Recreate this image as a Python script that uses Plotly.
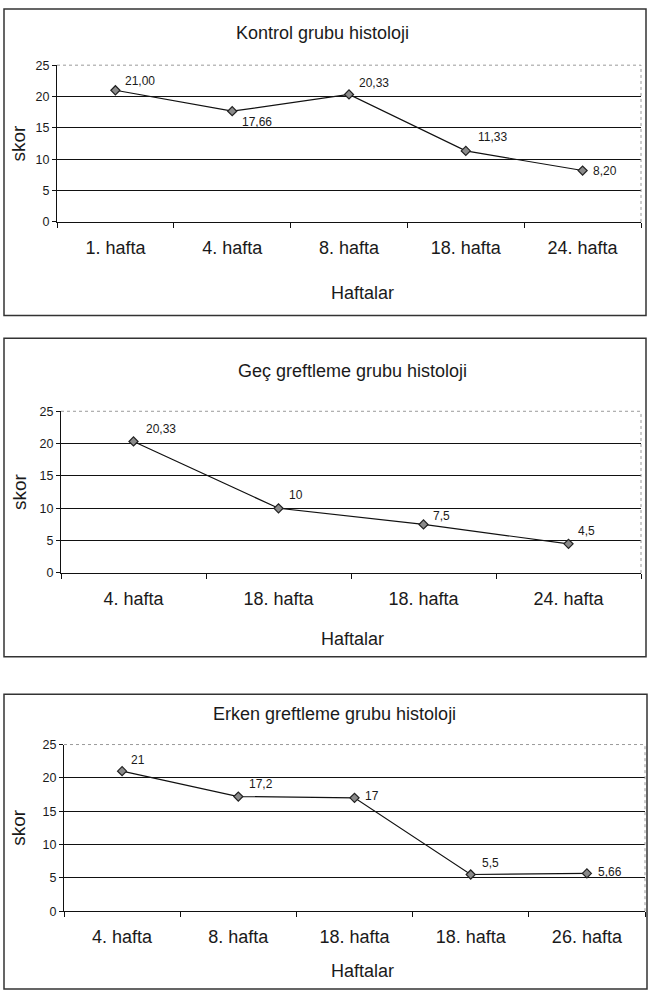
import plotly.graph_objects as go

W, H = 648, 1001

# ---- data ----
kontrol_weeks = ["1. hafta", "4. hafta", "8. hafta", "18. hafta", "24. hafta"]
kontrol_scores = [21.00, 17.66, 20.33, 11.33, 8.20]
kontrol_labels = ["21,00", "17,66", "20,33", "11,33", "8,20"]

gec_weeks = ["4. hafta", "18. hafta", "18. hafta", "24. hafta"]
gec_scores = [20.33, 10, 7.5, 4.5]
gec_labels = ["20,33", "10", "7,5", "4,5"]

erken_weeks = ["4. hafta", "8. hafta", "18. hafta", "18. hafta", "26. hafta"]
erken_scores = [21, 17.2, 17, 5.5, 5.66]
erken_labels = ["21", "17,2", "17", "5,5", "5,66"]

titles = ["Kontrol grubu histoloji", "Geç greftleme grubu histoloji", "Erken greftleme grubu histoloji"]
y_ticks = [0, 5, 10, 15, 20, 25]
x_title = "Haftalar"
y_title = "skor"

# ---- layout geometry (pixels) ----
panels = [
    dict(weeks=kontrol_weeks, scores=kontrol_scores, labels=kontrol_labels,
         box=(4, 2, 646, 313), plot=(57, 59, 641, 218), title_xy=(322, 26), xt_xy=(362, 290), yt_x=19,
         offs=[(8, -9), (8, 11), (8, -11), (10, -14), (8, 0)]),
    dict(weeks=gec_weeks, scores=gec_scores, labels=gec_labels,
         box=(4, 336, 646, 659), plot=(61, 410, 641, 574), title_xy=(352, 369), xt_xy=(352, 641), yt_x=19,
         offs=[(10, -12), (8, -13), (7, -8), (7, -13)]),
    dict(weeks=erken_weeks, scores=erken_scores, labels=erken_labels,
         box=(4, 697, 647, 996), plot=(64, 748, 645, 917), title_xy=(334, 717), xt_xy=(362, 978), yt_x=19,
         offs=[(7, -11), (9, -13), (8, -2), (9, -12), (9, -1)]),
]

def px(x):
    return x / W

def py(y):
    return 1 - y / H

fig = go.Figure()
font_family = "Liberation Sans, Arial, sans-serif"
txt_color = "#1a1a1a"

shapes = []
annotations = []

for i, p in enumerate(panels, start=1):
    n = len(p["weeks"])
    xs = list(range(n))
    xa = "x" if i == 1 else f"x{i}"
    ya = "y" if i == 1 else f"y{i}"
    fig.add_trace(go.Scatter(
        x=xs, y=p["scores"], mode="lines+markers",
        line=dict(color="#111111", width=1.2),
        marker=dict(symbol="diamond", size=7, color="#8a8a8a",
                    line=dict(color="#222222", width=1.2)),
        xaxis=xa, yaxis=ya, showlegend=False, hoverinfo="skip",
    ))
    x0, y0, x1, y1 = p["plot"]
    xkey = "xaxis" if i == 1 else f"xaxis{i}"
    ykey = "yaxis" if i == 1 else f"yaxis{i}"
    fig.update_layout(**{
        xkey: dict(
            domain=[px(x0), px(x1)], anchor=ya, range=[-0.5, n - 0.5],
            tickmode="array", tickvals=xs, ticktext=p["weeks"], ticks="",
            ticklabelstandoff=9,
            showgrid=False, zeroline=False, showline=True, linecolor="#111111", linewidth=1.2,
            tickfont=dict(size=18, color=txt_color, family=font_family),
            minor=dict(tickmode="array", tickvals=[k - 0.5 for k in range(n + 1)],
                       ticks="outside", ticklen=5, tickcolor="#111111", tickwidth=1.2, showgrid=False),
            fixedrange=True,
        ),
        ykey: dict(
            domain=[py(y1), py(y0)], anchor=xa, range=[0, 25],
            tickmode="array", tickvals=y_ticks, ticks="outside", ticklen=4,
            tickcolor="#111111", tickwidth=1.2,
            showgrid=False, zeroline=False, showline=True, linecolor="#111111", linewidth=1.2,
            tickfont=dict(size=12.5, color=txt_color, family=font_family),
            minor=dict(tickmode="array", tickvals=y_ticks[1:-1], ticks="",
                       showgrid=True, gridcolor="#111111", gridwidth=1.2),
            fixedrange=True,
        ),
    })
    # dotted plot-area border (top and right)
    shapes.append(dict(type="line", xref=f"{xa} domain", yref=f"{ya} domain",
                       x0=0, x1=1, y0=1, y1=1, line=dict(color="#9a9a9a", width=1, dash="dot")))
    shapes.append(dict(type="line", xref=f"{xa} domain", yref=f"{ya} domain",
                       x0=1, x1=1, y0=0, y1=1, line=dict(color="#9a9a9a", width=1, dash="dot")))
    # panel frame
    bx0, by0, bx1, by1 = p["box"]
    shapes.append(dict(type="rect", xref="paper", yref="paper",
                       x0=px(bx0), x1=px(bx1), y0=py(by1), y1=py(by0),
                       line=dict(color="#333333", width=1.5), fillcolor="rgba(0,0,0,0)"))
    # panel title
    tx, ty = p["title_xy"]
    annotations.append(dict(text=titles[i - 1], xref="paper", yref="paper",
                            x=px(tx), y=py(ty), showarrow=False,
                            xanchor="center", yanchor="middle",
                            font=dict(size=18, color=txt_color, family=font_family)))
    # x axis title
    hx, hy = p["xt_xy"]
    annotations.append(dict(text=x_title, xref="paper", yref="paper",
                            x=px(hx), y=py(hy), showarrow=False,
                            xanchor="center", yanchor="middle",
                            font=dict(size=18, color=txt_color, family=font_family)))
    # y axis title
    annotations.append(dict(text=y_title, xref="paper", yref="paper",
                            x=px(p["yt_x"]), y=py((y0 + y1) / 2), showarrow=False,
                            textangle=-90, xanchor="center", yanchor="middle",
                            font=dict(size=19, color=txt_color, family=font_family)))
    # data labels
    for k, (v, lab) in enumerate(zip(p["scores"], p["labels"])):
        dx, dy = p["offs"][k]
        annotations.append(dict(text=lab, xref=xa, yref=ya, x=k, y=v, showarrow=False,
                                xanchor="left", yanchor="middle", xshift=dx, yshift=-dy,
                                font=dict(size=12, color=txt_color, family=font_family)))

fig.update_layout(
    width=W, height=H, margin=dict(l=0, r=0, t=0, b=0),
    paper_bgcolor="white", plot_bgcolor="white",
    shapes=shapes, annotations=annotations, showlegend=False,
)

fig.write_html("out.html")
